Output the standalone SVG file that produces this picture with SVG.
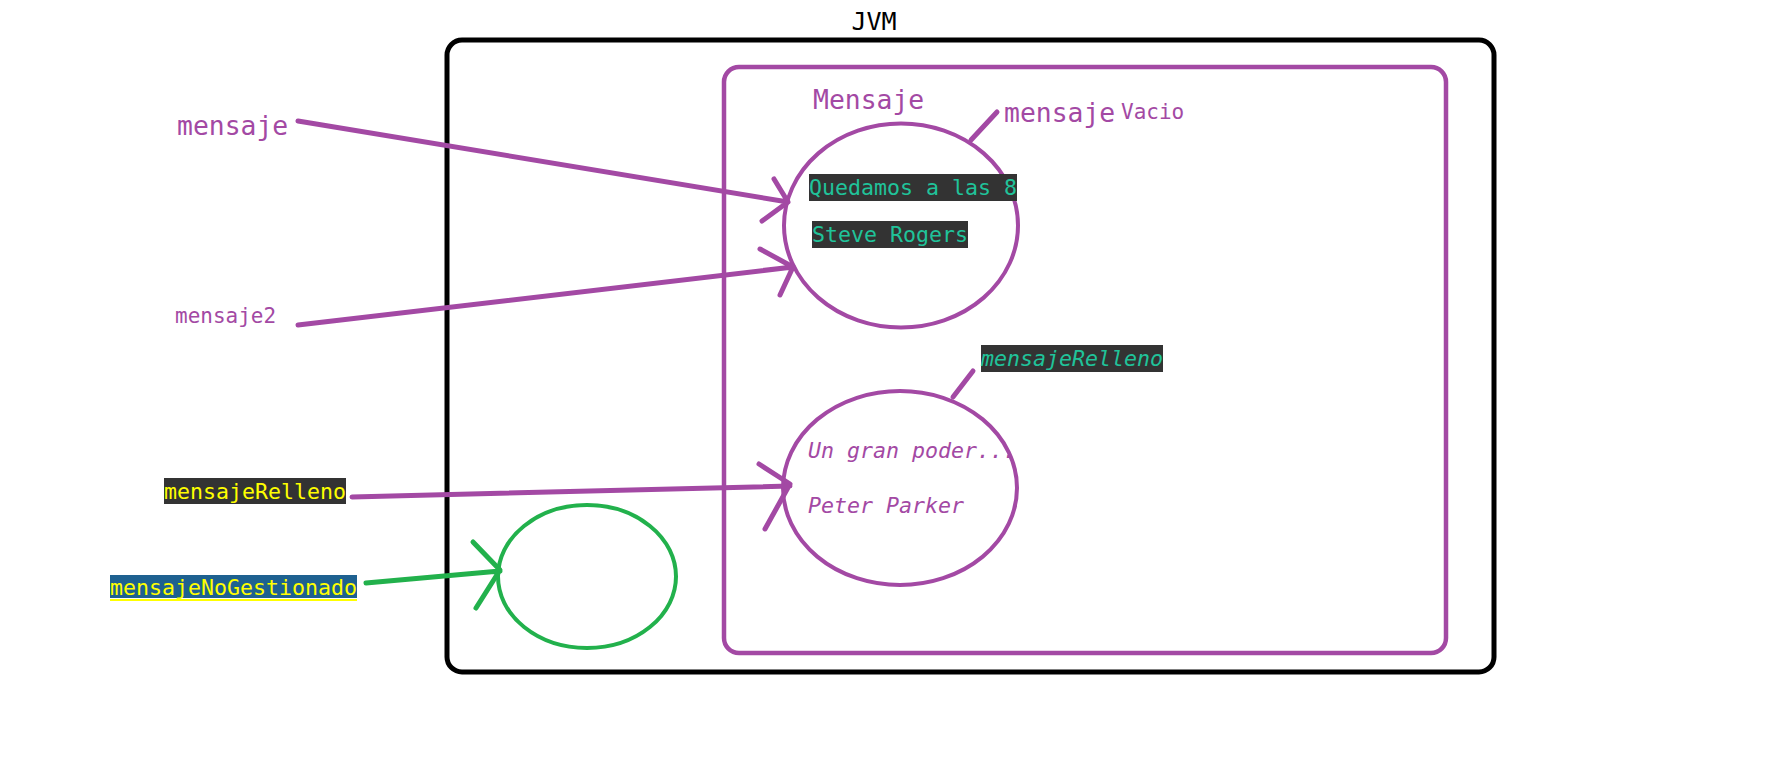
<svg xmlns="http://www.w3.org/2000/svg" width="1768" height="780" viewBox="0 0 1768 780">
<style>
.mono{font-family:"DejaVu Sans Mono","Liberation Mono",monospace;}
.pur{fill:#a349a4;}
.teal{fill:#20c39a;}
.yel{fill:#ffff00;}
.dark{fill:#333333;}
.ital{font-style:italic;}
.pline{fill:none;stroke:#a349a4;stroke-width:5;stroke-linecap:round;stroke-linejoin:round;}
.gline{fill:none;stroke:#22b14c;stroke-width:5;stroke-linecap:round;stroke-linejoin:round;}
.s{font-size:21.6px;}
.l{font-size:26.4px;}
</style>
<rect width="1768" height="780" fill="#ffffff"/>
<g id="jvm">
<rect x="447" y="40" width="1047" height="632" rx="15" fill="none" stroke="#000000" stroke-width="5"/>
<text x="874" y="30" text-anchor="middle" class="mono" font-size="25" fill="#000000">JVM</text>
</g>
<g id="heap-mensaje">
<rect x="724" y="67" width="722" height="586" rx="15" fill="none" stroke="#a349a4" stroke-width="4.5"/>
<text x="813" y="109" class="mono l pur">Mensaje</text>
</g>
<g id="obj-vacio">
<ellipse cx="901" cy="225.5" rx="117" ry="102" fill="none" stroke="#a349a4" stroke-width="4"/>
<rect x="809" y="174" width="208" height="27" class="dark"/>
<text x="809" y="195" class="mono s teal">Quedamos a las 8</text>
<rect x="812" y="221" width="156" height="27" class="dark"/>
<text x="812" y="242" class="mono s teal">Steve Rogers</text>
<text x="1004" y="122" class="mono l pur">mensaje</text>
<text x="1121" y="119" class="mono pur" font-size="21">Vacio</text>
</g>
<g id="obj-relleno">
<ellipse cx="900" cy="488" rx="117" ry="97" fill="none" stroke="#a349a4" stroke-width="4"/>
<text x="808" y="458" class="mono s pur ital">Un gran poder...</text>
<text x="808" y="513" class="mono s pur ital">Peter Parker</text>
<rect x="981" y="345" width="182" height="27" class="dark"/>
<text x="981" y="366" class="mono s teal ital">mensajeRelleno</text>
</g>
<g id="obj-nogestionado">
<ellipse cx="587" cy="576.5" rx="89" ry="71.5" fill="none" stroke="#22b14c" stroke-width="4"/>
</g>
<g id="ref-mensaje">
<text x="177" y="135" class="mono l pur">mensaje</text>
</g>
<g id="ref-mensaje2">
<text x="175" y="323" class="mono pur" font-size="21">mensaje2</text>
</g>
<g id="ref-mensajeRelleno">
<rect x="164" y="478" width="182" height="26" class="dark"/>
<text x="164" y="499" class="mono s yel">mensajeRelleno</text>
</g>
<g id="ref-mensajeNoGestionado">
<rect x="110" y="575" width="247" height="23" fill="#1e6190"/>
<rect x="110" y="599" width="247" height="2" class="yel"/>
<text x="110" y="595" class="mono s yel">mensajeNoGestionado</text>
</g>
<g id="connectors">
<path class="pline" d="M298 121 L788 202 M774 179 L788 202 L762 221"/>
<path class="pline" d="M298 325 L793 267 M760 249 L793 267 L780 295"/>
<path class="pline" d="M352 497 L790 486 M759 464 L790 484 L765 529"/>
<path class="gline" d="M366 583 L500 571 M473 542 L500 570 L476 608"/>
<path class="pline" d="M997 112 L971 140"/>
<path class="pline" d="M973 371 L953 397"/>
</g>
</svg>
